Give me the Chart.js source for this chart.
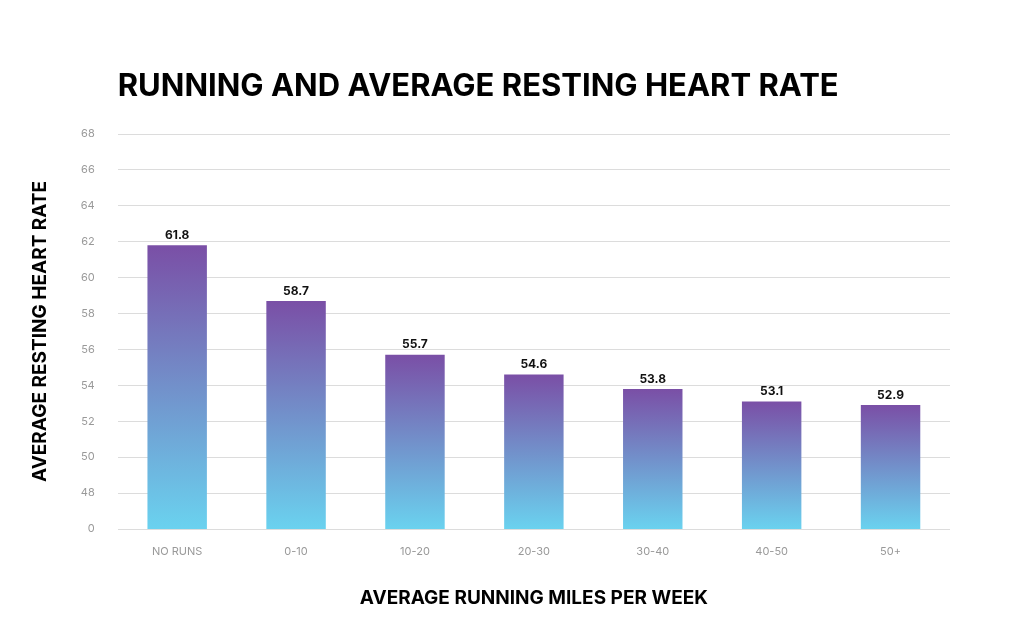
<!DOCTYPE html>
<html>
<head>
<meta charset="utf-8">
<script src="https://cdn.jsdelivr.net/npm/chart.js@4"></script>
<style>
  html, body { margin: 0; padding: 0; background: #fff; }
  #wrap { width: 1024px; height: 643px; position: relative; }
</style>
</head>
<body>
<div id="wrap"><canvas id="grafico"></canvas></div>
<script>
// ========== DATOS ==========
const categorias = ["NO RUNS", "0-10", "10-20", "20-30", "30-40", "40-50", "50+"];
const valores = [61.8, 58.7, 55.7, 54.6, 53.8, 53.1, 52.9];
const etiquetasY = ["0", "48", "50", "52", "54", "56", "58", "60", "62", "64", "66", "68"];
const titulo = "RUNNING AND AVERAGE RESTING HEART RATE";

// gradiente por barra: violeta arriba, celeste abajo
function colorBarra(ctx) {
  const chart = ctx.chart;
  const y = chart.scales.y;
  if (!y || !chart.chartArea) return "#7a5aa8";
  const top = y.getPixelForValue(valores[ctx.dataIndex]);
  const g = chart.ctx.createLinearGradient(0, top, 0, chart.chartArea.bottom);
  g.addColorStop(0, "#7a4fa6");
  g.addColorStop(1, "#6ad2ef");
  return g;
}

const etiquetasDatos = {
  id: "etiquetasDatos",
  afterDatasetsDraw(chart) {
    const c = chart.ctx;
    const meta = chart.getDatasetMeta(0);
    c.save();
    c.fillStyle = "#111";
    c.font = "bold 12px Inter, 'DejaVu Sans', sans-serif";
    c.textAlign = "center";
    c.textBaseline = "bottom";
    meta.data.forEach((bar, i) => {
      c.fillText(valores[i].toFixed(1), bar.x, bar.y - 4);
    });
    // titulo alineado con el area del grafico
    c.fillStyle = "#000";
    c.font = "bold 31px Inter, 'DejaVu Sans', sans-serif";
    c.textAlign = "left";
    c.textBaseline = "middle";
    c.fillText(titulo, chart.chartArea.left, 87);
    c.restore();
  }
};

new Chart(document.getElementById("grafico"), {
  type: "bar",
  data: {
    labels: categorias,
    datasets: [{
      data: valores,
      backgroundColor: colorBarra,
      barPercentage: 0.5,
      categoryPercentage: 1
    }]
  },
  options: {
    responsive: true,
    maintainAspectRatio: false,
    animation: false,
    layout: { padding: { left: 25, right: 74, top: 134, bottom: 29 } },
    plugins: {
      legend: { display: false },
      tooltip: { enabled: false }
    },
    scales: {
      x: {
        grid: { display: false },
        border: { display: false },
        ticks: { color: "#999", font: { family: "Inter, sans-serif", size: 11 }, padding: 8 },
        title: {
          display: true,
          text: "AVERAGE RUNNING MILES PER WEEK",
          color: "#000",
          font: { family: "Inter, 'DejaVu Sans', sans-serif", size: 19, weight: "bold" },
          padding: { top: 21 }
        }
      },
      y: {
        min: 46,
        max: 68,
        grid: { color: "#dcdcdc", drawTicks: false },
        border: { display: false },
        ticks: {
          stepSize: 2,
          color: "#999",
          padding: 23,
          font: { family: "Inter, sans-serif", size: 11 },
          callback: (v, i) => etiquetasY[i]
        },
        title: {
          display: true,
          text: "AVERAGE RESTING HEART RATE",
          color: "#000",
          font: { family: "Inter, 'DejaVu Sans', sans-serif", size: 19, weight: "bold" },
          padding: { bottom: 6 }
        }
      }
    }
  },
  plugins: [etiquetasDatos]
});
</script>
</body>
</html>
